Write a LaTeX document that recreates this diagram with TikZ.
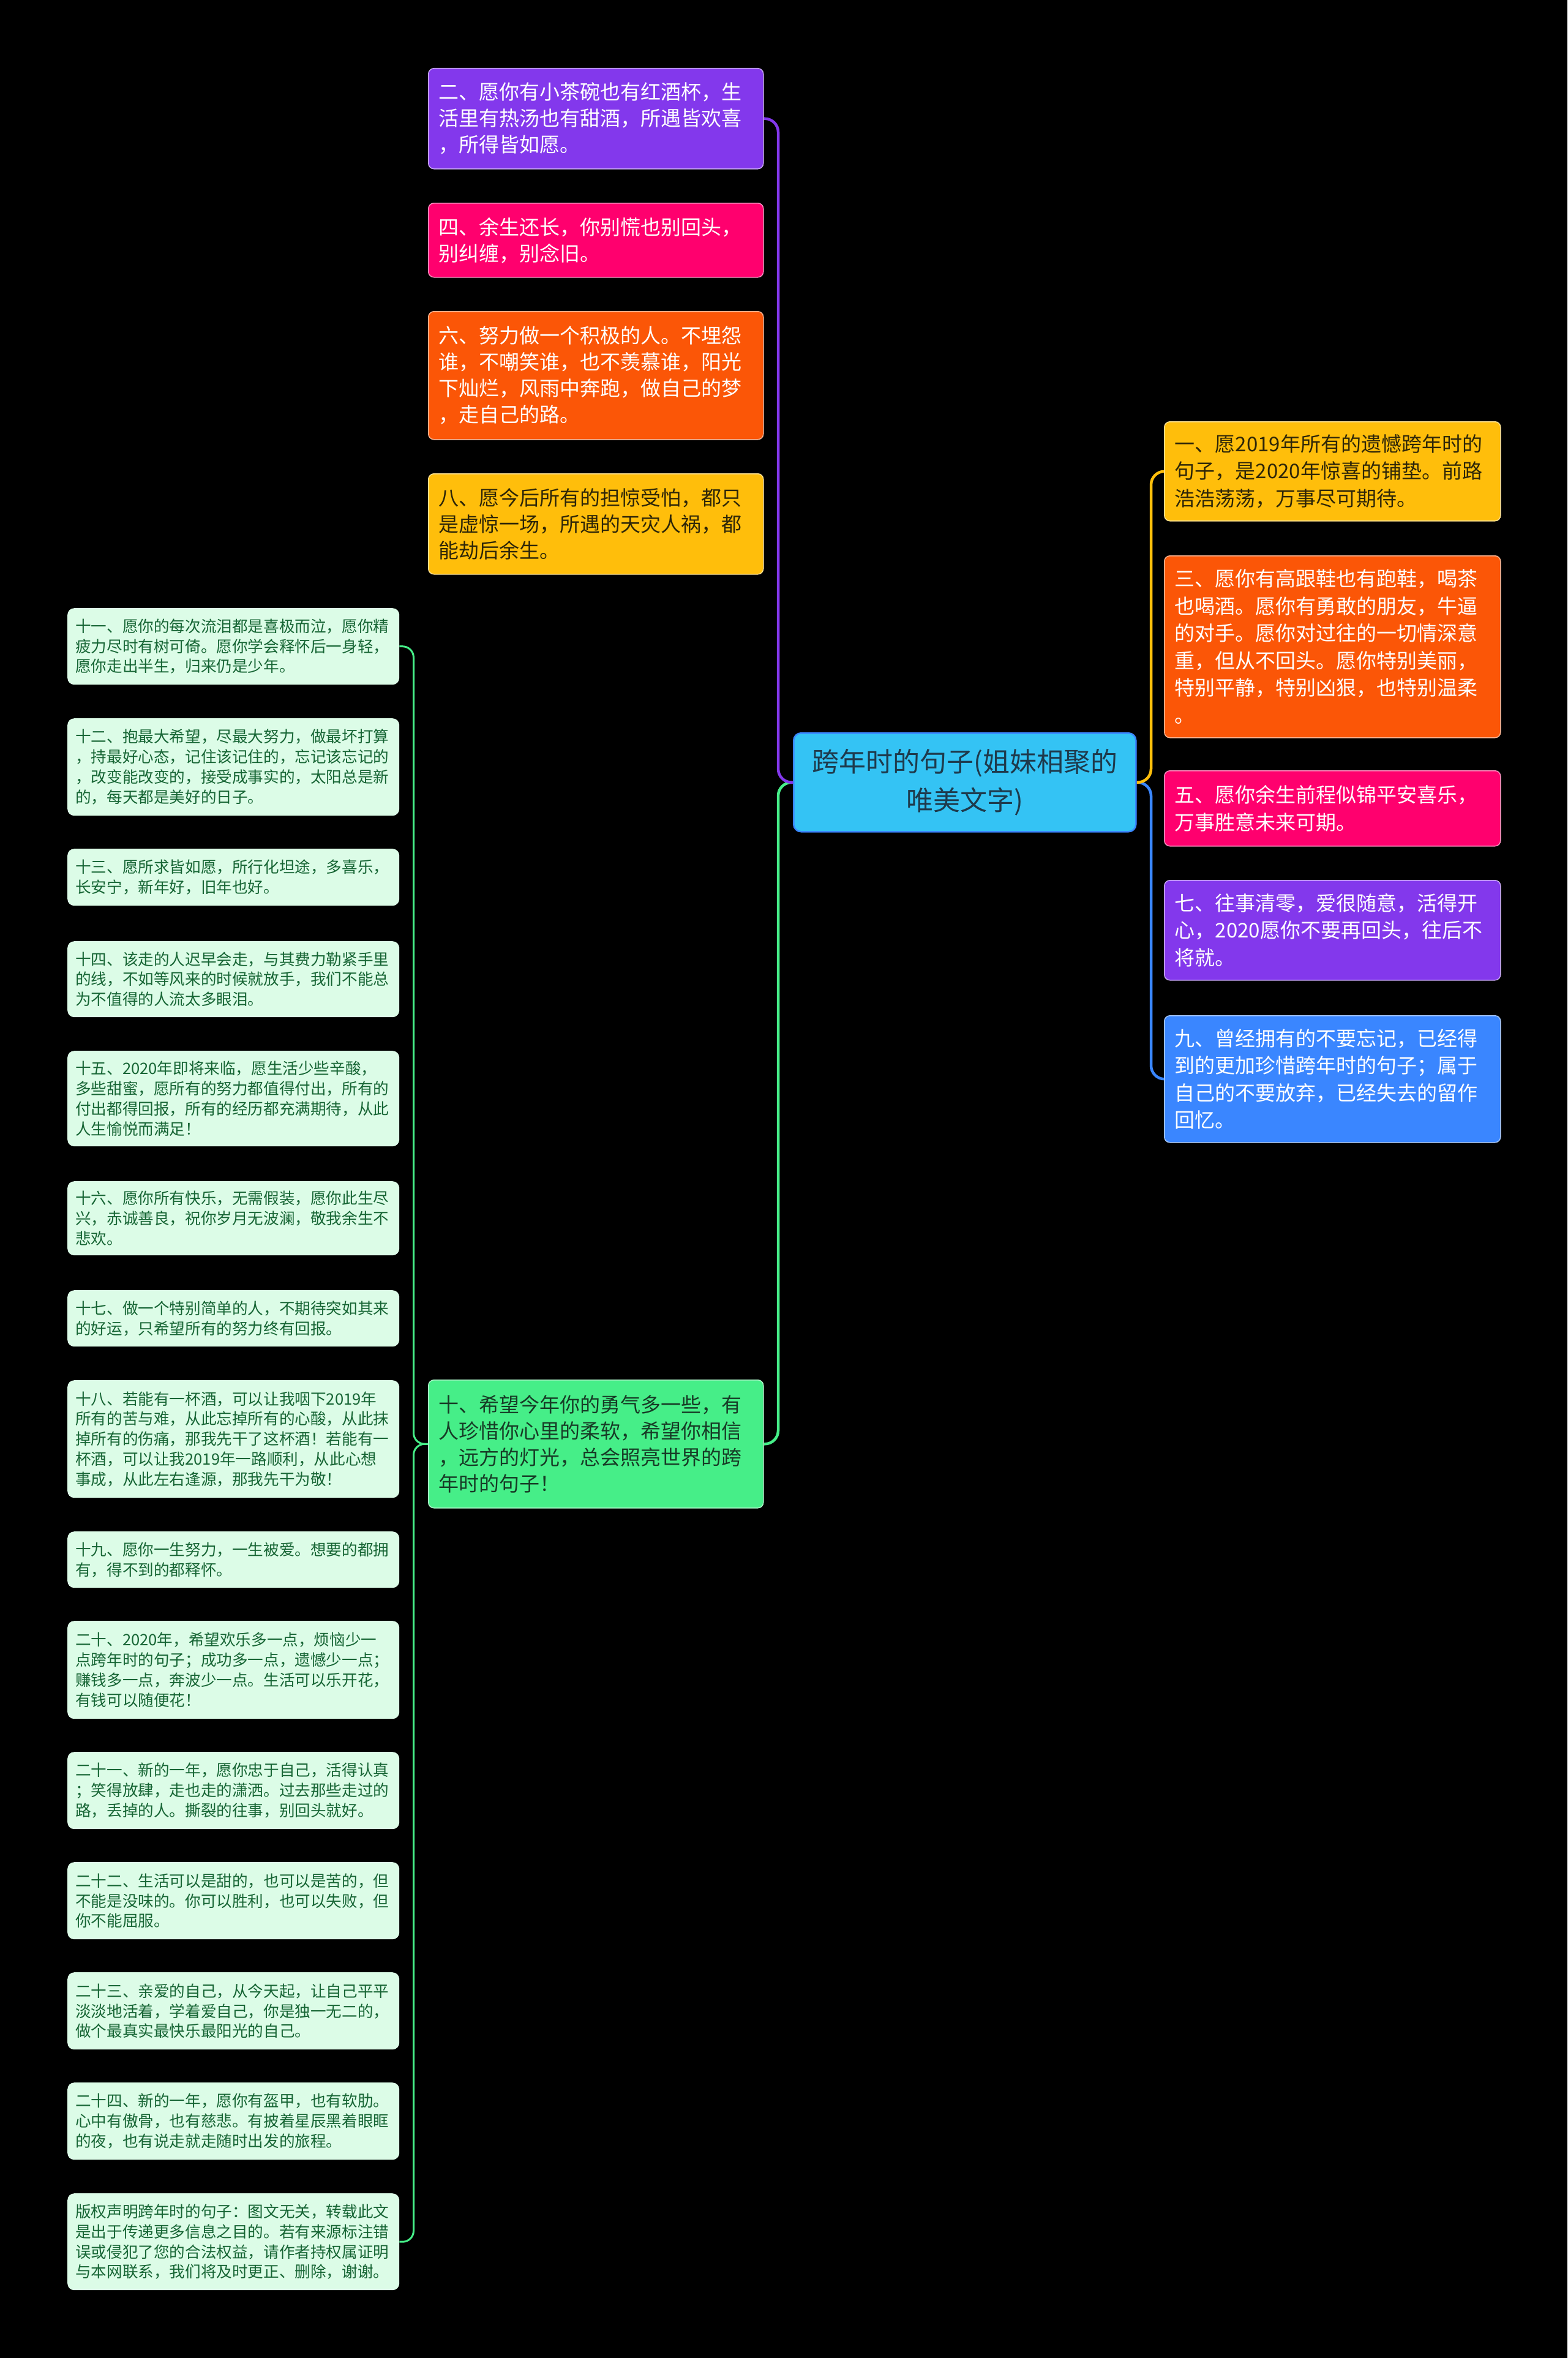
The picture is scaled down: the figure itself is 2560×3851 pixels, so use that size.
\documentclass[tikz,border=0pt]{standalone}
\usepackage{fontspec}
\newfontfamily\cjk{Noto Sans CJK SC}
\usetikzlibrary{backgrounds}
\definecolor{cPurple}{HTML}{8338EC}
\definecolor{cPink}{HTML}{FF006E}
\definecolor{cOrange}{HTML}{FB5607}
\definecolor{cYellow}{HTML}{FFBE0B}
\definecolor{cBlue}{HTML}{3A86FF}
\definecolor{cGreen}{HTML}{46EE88}
\definecolor{cCenter}{HTML}{34C3F4}
\definecolor{cCenterText}{HTML}{1E3A4C}
\definecolor{cLeaf}{HTML}{DCFCE7}
\definecolor{cLeafText}{HTML}{166534}
\definecolor{cDark}{HTML}{2E2608}
\definecolor{cGreenText}{HTML}{173B26}
\begin{document}
\begin{tikzpicture}[x=1pt,y=-1pt,
  box/.style={rectangle, rounded corners=9pt, anchor=north west, inner ysep=0pt, align=left},
  lone/.style={box, minimum width=547pt, text width=513pt, inner xsep=17pt, font=\cjk\fontsize{33}{43}\selectfont, line width=1.5pt},
  rone/.style={lone, minimum width=549pt, text width=515pt, font=\cjk\fontsize{33}{44.5}\selectfont},
  centerbox/.style={box, align=center, fill=cCenter, draw=cBlue, line width=2.5pt, text=cCenterText, minimum width=559pt, text width=509pt, inner xsep=25pt, font=\cjk\fontsize{44}{63}\selectfont, rounded corners=12pt},
  leaf/.style={box, fill=cLeaf, text=cLeafText, minimum width=542pt, text width=516pt, inner xsep=13pt, font=\cjk\fontsize{25.6}{32.8}\selectfont, rounded corners=11pt},
  link/.style={line width=4.5pt, rounded corners=22pt},
  leaflink/.style={line width=3pt, rounded corners=18pt, draw=cGreen}
]
\begin{pgfonlayer}{background}
\fill[black] (0,0) rectangle (2560,3851);
\end{pgfonlayer}
\useasboundingbox (0,0) rectangle (2560,3851);

% center
\node[centerbox, minimum height=161pt] (c) at (1295,1196) {跨年时的句子(姐妹相聚的\\唯美文字)};

% left level-1
\node[lone, fill=cPurple, draw=cPurple!45!white, text=white, minimum height=164pt] (n2) at (699,111)
 {二、愿你有小茶碗也有红酒杯，生\\活里有热汤也有甜酒，所遇皆欢喜\\，所得皆如愿。};
\node[lone, fill=cPink, draw=cPink!45!white, text=white, minimum height=121pt] (n4) at (699,331)
 {四、余生还长，你别慌也别回头，\\别纠缠，别念旧。};
\node[lone, fill=cOrange, draw=cOrange!45!white, text=white, minimum height=209pt] (n6) at (699,508)
 {六、努力做一个积极的人。不埋怨\\谁，不嘲笑谁，也不羡慕谁，阳光\\下灿烂，风雨中奔跑，做自己的梦\\，走自己的路。};
\node[lone, fill=cYellow, draw=cYellow!45!white, text=cDark, minimum height=164pt] (n8) at (699,773)
 {八、愿今后所有的担惊受怕，都只\\是虚惊一场，所遇的天灾人祸，都\\能劫后余生。};
\node[lone, fill=cGreen, draw=cGreen!45!white, text=cGreenText, minimum height=209pt] (n10) at (699,2253)
 {十、希望今年你的勇气多一些，有\\人珍惜你心里的柔软，希望你相信\\，远方的灯光，总会照亮世界的跨\\年时的句子！};

% right level-1
\node[rone, fill=cYellow, draw=cYellow!45!white, text=cDark, minimum height=162pt] (n1) at (1901,688)
 {一、愿2019年所有的遗憾跨年时的\\句子，是2020年惊喜的铺垫。前路\\浩浩荡荡，万事尽可期待。};
\node[rone, fill=cOrange, draw=cOrange!45!white, text=white, minimum height=297pt] (n3) at (1901,907)
 {三、愿你有高跟鞋也有跑鞋，喝茶\\也喝酒。愿你有勇敢的朋友，牛逼\\的对手。愿你对过往的一切情深意\\重，但从不回头。愿你特别美丽，\\特别平静，特别凶狠，也特别温柔\\。};
\node[rone, fill=cPink, draw=cPink!45!white, text=white, minimum height=123pt] (n5) at (1901,1258)
 {五、愿你余生前程似锦平安喜乐，\\万事胜意未来可期。};
\node[rone, fill=cPurple, draw=cPurple!45!white, text=white, minimum height=163pt] (n7) at (1901,1437)
 {七、往事清零，爱很随意，活得开\\心，2020愿你不要再回头，往后不\\将就。};
\node[rone, fill=cBlue, draw=cBlue!45!white, text=white, minimum height=207pt] (n9) at (1901,1658)
 {九、曾经拥有的不要忘记，已经得\\到的更加珍惜跨年时的句子；属于\\自己的不要放弃，已经失去的留作\\回忆。};

% leaves
\node[leaf, minimum height=125pt] (n11) at (110,993)
 {十一、愿你的每次流泪都是喜极而泣，愿你精\\疲力尽时有树可倚。愿你学会释怀后一身轻，\\愿你走出半生，归来仍是少年。};
\node[leaf, minimum height=159pt] (n12) at (110,1173)
 {十二、抱最大希望，尽最大努力，做最坏打算\\，持最好心态，记住该记住的，忘记该忘记的\\，改变能改变的，接受成事实的，太阳总是新\\的，每天都是美好的日子。};
\node[leaf, minimum height=93pt] (n13) at (110,1386)
 {十三、愿所求皆如愿，所行化坦途，多喜乐，\\长安宁，新年好，旧年也好。};
\node[leaf, minimum height=124pt] (n14) at (110,1537)
 {十四、该走的人迟早会走，与其费力勒紧手里\\的线，不如等风来的时候就放手，我们不能总\\为不值得的人流太多眼泪。};
\node[leaf, minimum height=156pt] (n15) at (110,1716)
 {十五、2020年即将来临，愿生活少些辛酸，\\多些甜蜜，愿所有的努力都值得付出，所有的\\付出都得回报，所有的经历都充满期待，从此\\人生愉悦而满足！};
\node[leaf, minimum height=121pt] (n16) at (110,1929)
 {十六、愿你所有快乐，无需假装，愿你此生尽\\兴，赤诚善良，祝你岁月无波澜，敬我余生不\\悲欢。};
\node[leaf, minimum height=92pt] (n17) at (110,2107)
 {十七、做一个特别简单的人，不期待突如其来\\的好运，只希望所有的努力终有回报。};
\node[leaf, minimum height=192pt] (n18) at (110,2254)
 {十八、若能有一杯酒，可以让我咽下2019年\\所有的苦与难，从此忘掉所有的心酸，从此抹\\掉所有的伤痛，那我先干了这杯酒！若能有一\\杯酒，可以让我2019年一路顺利，从此心想\\事成，从此左右逢源，那我先干为敬！};
\node[leaf, minimum height=92pt] (n19) at (110,2501)
 {十九、愿你一生努力，一生被爱。想要的都拥\\有，得不到的都释怀。};
\node[leaf, minimum height=160pt] (n20) at (110,2647)
 {二十、2020年，希望欢乐多一点，烦恼少一\\点跨年时的句子；成功多一点，遗憾少一点；\\赚钱多一点，奔波少一点。生活可以乐开花，\\有钱可以随便花！};
\node[leaf, minimum height=126pt] (n21) at (110,2861)
 {二十一、新的一年，愿你忠于自己，活得认真\\；笑得放肆，走也走的潇洒。过去那些走过的\\路，丢掉的人。撕裂的往事，别回头就好。};
\node[leaf, minimum height=126pt] (n22) at (110,3041)
 {二十二、生活可以是甜的，也可以是苦的，但\\不能是没味的。你可以胜利，也可以失败，但\\你不能屈服。};
\node[leaf, minimum height=126pt] (n23) at (110,3221)
 {二十三、亲爱的自己，从今天起，让自己平平\\淡淡地活着，学着爱自己，你是独一无二的，\\做个最真实最快乐最阳光的自己。};
\node[leaf, minimum height=126pt] (n24) at (110,3401)
 {二十四、新的一年，愿你有盔甲，也有软肋。\\心中有傲骨，也有慈悲。有披着星辰黑着眼眶\\的夜，也有说走就走随时出发的旅程。};
\node[leaf, minimum height=158pt] (n25) at (110,3582)
 {版权声明跨年时的句子：图文无关，转载此文\\是出于传递更多信息之目的。若有来源标注错\\误或侵犯了您的合法权益，请作者持权属证明\\与本网联系，我们将及时更正、删除，谢谢。};

\begin{pgfonlayer}{background}
\draw[link, cGreen] (c.west) -- ++(-24,0) |- (n10.east);
\draw[link, cPurple] (c.west) -- ++(-24,0) |- (n2.east);
\draw[link, cBlue] (c.east) -- ++(23.5,0) |- (n9.west);
\draw[link, cYellow] (c.east) -- ++(23.5,0) |- (n1.west);
\draw[leaflink] (n10.west) -- ++(-23.5,0) |- (n11.east);
\draw[leaflink] (n10.west) -- ++(-23.5,0) |- (n25.east);
\end{pgfonlayer}
\end{tikzpicture}
\end{document}
